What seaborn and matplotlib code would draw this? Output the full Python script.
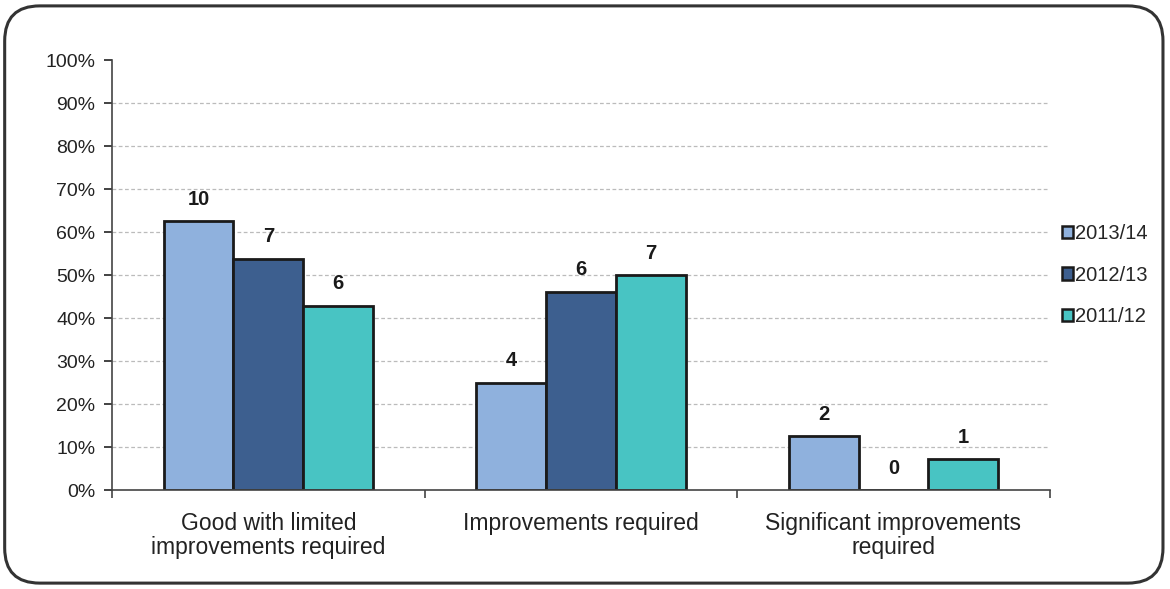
import matplotlib
matplotlib.use('Agg')
import matplotlib.pyplot as plt
from matplotlib.patches import FancyBboxPatch
from matplotlib.ticker import PercentFormatter, FixedLocator
import seaborn as sns
import pandas as pd

# Datos
categorias = ['Good with limited\nimprovements required', 'Improvements required',
              'Significant improvements\nrequired']
periodos = ['2013/14', '2012/13', '2011/12']
cuentas = {
    '2013/14': [10, 4, 2],
    '2012/13': [7, 6, 0],
    '2011/12': [6, 7, 1],
}
colores = ['#8FB1DD', '#3D5F8F', '#48C4C3']

filas = []
for p in periodos:
    total = sum(cuentas[p])
    for c, n in zip(categorias, cuentas[p]):
        filas.append({'categoria': c, 'periodo': p, 'n': n, 'pct': n / total})
df = pd.DataFrame(filas)

sns.set_style('white')
plt.rcParams['font.family'] = ['Liberation Sans', 'DejaVu Sans']

fig = plt.figure(figsize=(11.7, 5.89), dpi=100)
ax = fig.add_axes([0.0957, 0.168, 0.8015, 0.73])

sns.barplot(data=df, x='categoria', y='pct', hue='periodo', hue_order=periodos,
            order=categorias, palette=colores, saturation=1, width=0.67, gap=0,
            edgecolor='#1a1a1a', linewidth=2, ax=ax)

# Etiquetas con el numero de casos
for cont, p in zip(ax.containers, periodos):
    ax.bar_label(cont, labels=[str(v) for v in cuentas[p]], padding=9,
                 fontsize=14.5, fontweight='bold', color='#1a1a1a')

ax.set_ylim(0, 1)
ax.set_xlim(-0.5, 2.5)
ax.yaxis.set_major_locator(FixedLocator([i / 10 for i in range(11)]))
ax.yaxis.set_major_formatter(PercentFormatter(1.0, decimals=0))
ax.tick_params(axis='y', labelsize=14, colors='#222222', length=6, width=1.2,
               direction='out', left=True, pad=6)
ax.tick_params(axis='x', which='major', length=0, labelsize=16.5, colors='#222222', pad=16)
ax.set_xticks([-0.5, 0.5, 1.5, 2.5], minor=True)
ax.tick_params(axis='x', which='minor', length=6, width=1.2, bottom=True, direction='out',
               color='#444444')
for t in ax.get_xticklabels():
    t.set_linespacing(1.05)

ax.yaxis.grid(True, linestyle=(0, (3, 2)), color='#bbbbbb', linewidth=0.9)
ax.yaxis.get_gridlines()[-1].set_visible(False)
ax.yaxis.get_gridlines()[0].set_visible(False)
ax.set_axisbelow(True)

for s in ['top', 'right']:
    ax.spines[s].set_visible(False)
for s in ['left', 'bottom']:
    ax.spines[s].set_color('#444444')
    ax.spines[s].set_linewidth(1.2)

ax.set_xlabel('')
ax.set_ylabel('')

leg = ax.legend(loc='center left', bbox_to_anchor=(1.0, 0.5), frameon=False,
                fontsize=14.5, handlelength=0.55, handleheight=0.55, handletextpad=0.1,
                labelspacing=1.1, borderaxespad=0.2)
for h in leg.legend_handles:
    h.set_linewidth(1.8)

# Marco redondeado
marco = FancyBboxPatch((0.004, 0.01), 0.99, 0.98, boxstyle='round,pad=0,rounding_size=0.03',
                       transform=fig.transFigure, fill=False, edgecolor='#333333',
                       linewidth=2.2, mutation_aspect=1170 / 589)
fig.patches.append(marco)

fig.savefig('out.png', dpi=100)
plt.close()
